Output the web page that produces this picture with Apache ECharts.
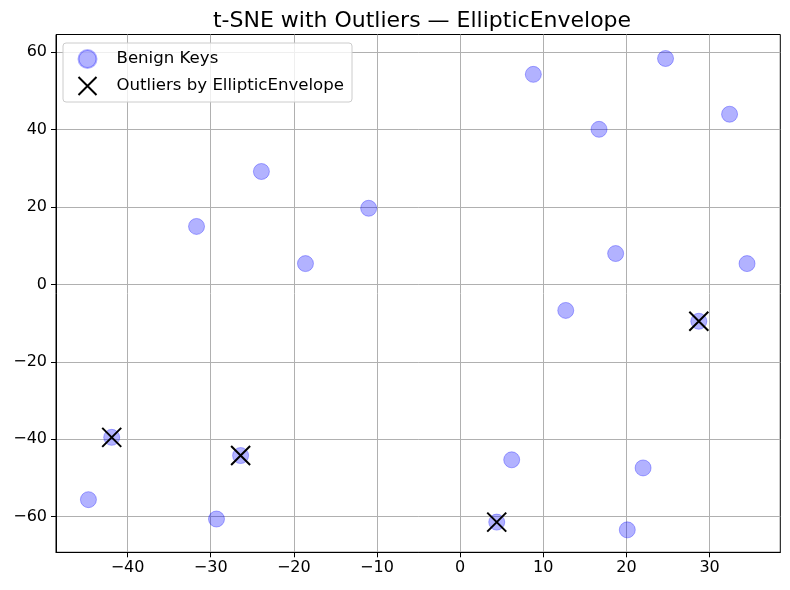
<!DOCTYPE html>
<html>
<head>
<meta charset="utf-8">
<script src="https://cdn.jsdelivr.net/npm/echarts@6/dist/echarts.min.js"></script>
<style>html,body{margin:0;padding:0;background:#fff;}#c{width:790px;height:590px;}</style>
</head>
<body>
<div id="c"></div>
<script>
// Data
const pointX = [-44.7, -41.9, -31.7, -29.3, -26.4, -23.9, -18.6, -11.0, 4.4, 6.2, 8.8, 12.7, 16.7, 18.7, 20.1, 22.0, 24.7, 28.7, 32.4, 34.5];
const pointY = [-55.6, -39.5, 15.0, -60.6, -44.2, 29.2, 5.4, 19.7, -61.4, -45.3, 54.3, -6.7, 40.1, 8.0, -63.4, -47.4, 58.4, -9.5, 44.0, 5.4];
const outlierX = [-41.9, -26.4, 4.4, 28.7];
const outlierY = [-39.5, -44.2, -61.4, -9.5];
const xTicks = [-40, -30, -20, -10, 0, 10, 20, 30];
const yTicks = [-60, -40, -20, 0, 20, 40, 60];
const seriesNames = ['Benign Keys', 'Outliers by EllipticEnvelope'];
const titleText = 't-SNE with Outliers \u2014 EllipticEnvelope';

const FONT = 'DejaVu Sans';
const fmt = v => String(v).replace('-', '\u2212');

const chart = echarts.init(document.getElementById('c'), null, {renderer: 'canvas'});
chart.setOption({
  animation: false,
  backgroundColor: '#ffffff',
  textStyle: {fontFamily: FONT},
  title: {
    text: titleText,
    left: 417, top: 5, textAlign: 'center',
    textStyle: {fontFamily: FONT, fontSize: 22, fontWeight: 'normal', color: '#000'}
  },
  grid: {
    left: 56, right: 9.7, top: 34.5, bottom: 37.7,
    show: true, borderColor: '#000', borderWidth: 1, backgroundColor: 'transparent'
  },
  legend: {
    orient: 'vertical',
    left: 63, top: 43,
    padding: [6, 8, 6, 14.5],
    itemGap: 7,
    itemWidth: 48, itemHeight: 18,
    backgroundColor: 'rgba(255,255,255,0.8)',
    borderColor: '#cccccc', borderWidth: 1, borderRadius: 3,
    textStyle: {fontFamily: FONT, fontSize: 16.6, color: '#000', lineHeight: 18},
    data: seriesNames
  },
  xAxis: {
    type: 'value', min: -48.6, max: 38.5,
    minInterval: 10, maxInterval: 10, splitNumber: 8,
    axisLine: {show: true, onZero: false, lineStyle: {color: '#000', width: 1}},
    axisTick: {show: true, length: 5, lineStyle: {color: '#000'}, customValues: xTicks},
    axisLabel: {color: '#000', fontSize: 16, fontFamily: FONT, margin: 8, formatter: fmt, customValues: xTicks},
    splitLine: {show: true, lineStyle: {color: '#b0b0b0', width: 1}}
  },
  yAxis: {
    type: 'value', min: -69.2, max: 64.6,
    minInterval: 20, maxInterval: 20, splitNumber: 7,
    axisLine: {show: true, onZero: false, lineStyle: {color: '#000', width: 1}},
    axisTick: {show: true, length: 5, lineStyle: {color: '#000'}, customValues: yTicks},
    axisLabel: {color: '#000', fontSize: 16, fontFamily: FONT, margin: 9, formatter: fmt, customValues: yTicks},
    splitLine: {show: true, lineStyle: {color: '#b0b0b0', width: 1}}
  },
  series: [
    {
      name: seriesNames[0],
      type: 'scatter',
      symbol: 'circle',
      symbolSize: 16,
      itemStyle: {color: 'rgba(0,0,255,0.3)', borderColor: 'rgba(0,0,255,0.3)', borderWidth: 1, opacity: 1},
      data: pointX.map((x, i) => [x, pointY[i]]),
      z: 3
    },
    {
      name: seriesNames[1],
      type: 'scatter',
      symbol: 'path://M0,0L10,10M10,0L0,10',
      symbolSize: 19,
      itemStyle: {color: 'rgba(0,0,0,0)', borderColor: '#000', borderWidth: 2, opacity: 1},
      data: outlierX.map((x, i) => [x, outlierY[i]]),
      z: 4
    }
  ]
});
</script>
</body>
</html>
